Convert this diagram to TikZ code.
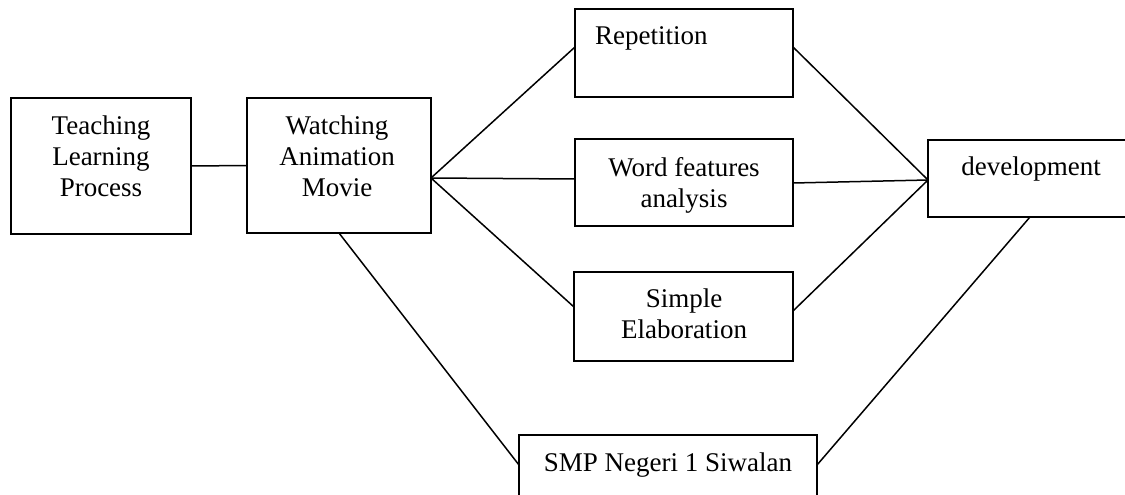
\documentclass[tikz,border=0pt]{standalone}
\usepackage{fontspec}
\setmainfont{Liberation Serif}
\begin{document}
\begin{tikzpicture}[x=1pt,y=-1pt,
  box/.style={draw, line width=1.7pt, inner sep=0pt, outer sep=0pt, rectangle},
  txt/.style={inner sep=0pt, align=center, font=\fontsize{27}{31}\selectfont},
  link/.style={line width=1.5pt}]
\useasboundingbox (0,0) rectangle (1125,495);
\clip (0,0) rectangle (1125,495);
% boxes
\node[box, minimum width=180pt, minimum height=136pt] (tlp) at (101,166) {};
\node[box, minimum width=184pt, minimum height=135pt] (wam) at (339,165.5) {};
\node[box, minimum width=218pt, minimum height=88pt] (rep) at (684,53) {};
\node[box, minimum width=218pt, minimum height=87pt] (wfa) at (684,182.5) {};
\node[box, minimum width=219pt, minimum height=89pt] (se) at (683.5,316.5) {};
\node[box, minimum width=212pt, minimum height=77pt] (dev) at (1034,178.5) {};
\node[box, minimum width=298pt, minimum height=80pt] (smp) at (668,475) {};
% texts
\node[txt, anchor=north] (tlpt) at (101,116) {Teaching\\Learning\\Process};
\node[txt, anchor=north] (wamt) at (337,116) {Watching\\Animation\\Movie};
\node[txt, anchor=base west] (rept) at (595,45) {Repetition};
\node[txt, anchor=north] (wfat) at (684,157) {Word features\\analysis};
\node[txt, anchor=north] (set) at (684,289) {Simple\\Elaboration};
\node[txt, anchor=base] (devt) at (1031,175) {development};
\node[txt, anchor=base] (smpt) at (668,471) {SMP Negeri 1 Siwalan};
% connectors
\draw[link] (tlp.east) -- (wam.west);
\draw[link] ([yshift=-12.5pt]wam.east) -- ([yshift=6pt]rep.west);
\draw[link] ([yshift=-12.5pt]wam.east) -- ([yshift=3.5pt]wfa.west);
\draw[link] ([yshift=-12.5pt]wam.east) -- ([yshift=9.5pt]se.west);
\draw[link] (wam.south) -- ([yshift=10pt]smp.west);
\draw[link] ([yshift=6pt]rep.east) -- ([yshift=-1.5pt]dev.west);
\draw[link] ([yshift=-0.5pt]wfa.east) -- ([yshift=-1.5pt]dev.west);
\draw[link] ([yshift=5.5pt]se.east) -- ([yshift=-1.5pt]dev.west);
\draw[link] ([xshift=-4pt]dev.south) -- ([yshift=10pt]smp.east);
\end{tikzpicture}
\end{document}
